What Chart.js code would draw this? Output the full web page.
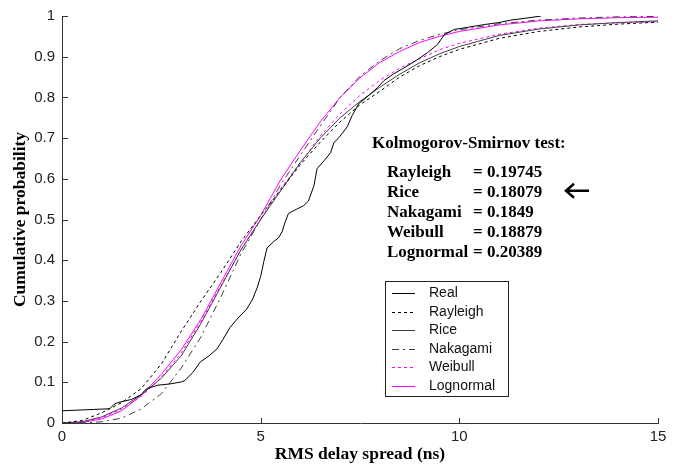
<!DOCTYPE html>
<html>
<head>
<meta charset="utf-8">
<script src="https://cdn.jsdelivr.net/npm/chart.js@4.4.0/dist/chart.umd.min.js"></script>
<style>
  html, body { margin: 0; padding: 0; background: #fff; }
  #wrap { width: 677px; height: 466px; }
</style>
</head>
<body>
<div id="wrap"><canvas id="cdf" width="677" height="466"></canvas></div>
<script>
'use strict';

// --- data ---
// x grid (ns) on which the fitted CDFs are sampled
const xGrid     = [0, 0.5, 1, 1.5, 2, 2.5, 3, 3.5, 4, 4.5, 5, 5.5, 6, 6.5, 7, 7.5, 8, 8.5, 9, 9.5, 10, 11, 12, 13, 14, 15];
const rayleigh  = [0, 0.006, 0.025, 0.05, 0.085, 0.145, 0.225, 0.3, 0.37, 0.445, 0.51, 0.572, 0.635, 0.69, 0.74, 0.782, 0.815, 0.85, 0.878, 0.9, 0.918, 0.945, 0.962, 0.973, 0.98, 0.985];
const rice      = [0, 0.003, 0.015, 0.037, 0.07, 0.11, 0.165, 0.245, 0.335, 0.425, 0.5, 0.57, 0.64, 0.7, 0.75, 0.79, 0.825, 0.857, 0.885, 0.907, 0.925, 0.952, 0.968, 0.978, 0.984, 0.988];
const nakagami  = [0, 0, 0.003, 0.012, 0.035, 0.072, 0.135, 0.212, 0.31, 0.415, 0.5, 0.585, 0.658, 0.73, 0.8, 0.852, 0.89, 0.92, 0.94, 0.955, 0.966, 0.981, 0.99, 0.995, 0.998, 0.999];
const weibull   = [0, 0.003, 0.013, 0.034, 0.066, 0.112, 0.172, 0.25, 0.338, 0.425, 0.5, 0.575, 0.64, 0.705, 0.76, 0.805, 0.842, 0.872, 0.895, 0.917, 0.933, 0.955, 0.97, 0.979, 0.983, 0.986];
const lognormal = [0, 0.001, 0.01, 0.03, 0.068, 0.12, 0.18, 0.255, 0.345, 0.435, 0.51, 0.597, 0.67, 0.74, 0.8, 0.848, 0.886, 0.913, 0.935, 0.95, 0.962, 0.978, 0.988, 0.993, 0.996, 0.997];

// empirical CDF of the measured RMS delay spread
const realX = [0, 1.2, 1.3, 1.4, 1.75, 2.0, 2.08, 2.15, 2.42, 2.72, 3.01, 3.1, 3.3, 3.48, 3.7, 3.9, 4.05, 4.23, 4.45, 4.65, 4.8, 4.91, 5.0, 5.08, 5.16, 5.33, 5.45, 5.54, 5.62, 5.7, 5.9, 6.08, 6.2, 6.34, 6.42, 6.6, 6.76, 6.84, 7.0, 7.18, 7.3, 7.47, 7.6, 7.77, 7.95, 8.1, 8.35, 8.6, 8.9, 9.2, 9.45, 9.62, 9.87, 10.2, 10.63, 11.0, 11.3, 11.7, 12.06];
const realY = [0.03, 0.035, 0.045, 0.05, 0.058, 0.07, 0.08, 0.085, 0.093, 0.096, 0.101, 0.105, 0.125, 0.15, 0.165, 0.182, 0.205, 0.235, 0.26, 0.28, 0.305, 0.332, 0.36, 0.397, 0.43, 0.446, 0.455, 0.47, 0.495, 0.515, 0.525, 0.534, 0.545, 0.583, 0.625, 0.645, 0.664, 0.688, 0.705, 0.728, 0.755, 0.785, 0.795, 0.809, 0.825, 0.841, 0.858, 0.872, 0.89, 0.91, 0.93, 0.954, 0.967, 0.972, 0.979, 0.984, 0.99, 0.995, 1.0];

// Kolmogorov-Smirnov statistics
const ksNames  = ['Rayleigh', 'Rice', 'Nakagami', 'Weibull', 'Lognormal'];
const ksValues = ['0.19745', '0.18079', '0.1849', '0.18879', '0.20389'];
const ksBest   = 'Rice';

const xTicks = [0, 5, 10, 15];
const yTicks = [0, 0.1, 0.2, 0.3, 0.4, 0.5, 0.6, 0.7, 0.8, 0.9, 1];

// --- look ---
const AXIS_COLOR = '#333';
const SANS = '"Liberation Sans", Arial, sans-serif';
const SERIF = '"Liberation Serif", "Times New Roman", serif';

const toPoints = (xs, ys) => xs.map((x, i) => ({ x, y: ys[i] }));

const series = [
    { label: 'Real',      data: toPoints(realX, realY),     color: '#000',    dash: [] },
    { label: 'Rayleigh',  data: toPoints(xGrid, rayleigh),  color: '#000',    dash: [3, 3] },
    { label: 'Rice',      data: toPoints(xGrid, rice),      color: '#404040', dash: [] },
    { label: 'Nakagami',  data: toPoints(xGrid, nakagami),  color: '#404040', dash: [7, 4, 2, 4] },
    { label: 'Weibull',   data: toPoints(xGrid, weibull),   color: '#ff00ff', dash: [3, 3] },
    { label: 'Lognormal', data: toPoints(xGrid, lognormal), color: '#ff00ff', dash: [] }
];

// MATLAB style ticks: pointing into the plot
const inwardTicks = {
    id: 'inwardTicks',
    afterDraw(chart) {
        const { ctx, chartArea: a, scales: { x, y } } = chart;
        ctx.save();
        ctx.strokeStyle = AXIS_COLOR;
        ctx.lineWidth = 1;
        ctx.beginPath();
        y.ticks.forEach(t => {
            const py = Math.round(y.getPixelForValue(t.value)) + 0.5;
            ctx.moveTo(a.left, py); ctx.lineTo(a.left + 6, py);
        });
        x.ticks.forEach(t => {
            const px = Math.round(x.getPixelForValue(t.value)) + 0.5;
            ctx.moveTo(px, a.bottom); ctx.lineTo(px, a.bottom - 5);
        });
        ctx.stroke();
        ctx.restore();
    }
};

// K-S test text block with the arrow on the best fit
const ksBlock = {
    id: 'ksBlock',
    afterDraw(chart) {
        const { ctx } = chart;
        ctx.save();
        ctx.fillStyle = '#000';
        ctx.font = `bold 17px ${SERIF}`;
        ctx.textBaseline = 'alphabetic';
        ctx.fillText('Kolmogorov-Smirnov test:', 372, 148);
        ksNames.forEach((name, i) => {
            const yb = 176.5 + i * 20.2;
            ctx.fillText(name, 387, yb);
            const eqX = Math.max(473, 387 + ctx.measureText(name + ' ').width);
            ctx.fillText('= ' + ksValues[i], eqX, yb);
            if (name === ksBest) {
                const ym = yb - 6;
                ctx.strokeStyle = '#000';
                ctx.lineWidth = 2.5;
                ctx.beginPath();
                ctx.moveTo(567, ym); ctx.lineTo(589, ym);
                ctx.moveTo(574, ym - 7); ctx.lineTo(566, ym); ctx.lineTo(574, ym + 7);
                ctx.stroke();
            }
        });
        ctx.restore();
    }
};

// boxed legend like the MATLAB one
const boxedLegend = {
    id: 'boxedLegend',
    afterDraw(chart) {
        const { ctx } = chart;
        const box = { left: 385.5, top: 281.5, width: 123, height: 115 };
        ctx.save();
        ctx.fillStyle = '#fff';
        ctx.fillRect(box.left, box.top, box.width, box.height);
        ctx.strokeStyle = '#222';
        ctx.lineWidth = 1;
        ctx.strokeRect(box.left, box.top, box.width, box.height);
        ctx.font = `14px ${SANS}`;
        ctx.textBaseline = 'middle';
        chart.data.datasets.forEach((ds, i) => {
            const ym = Math.round(293 + i * 18.5) + 0.5;
            ctx.strokeStyle = ds.borderColor;
            ctx.setLineDash(ds.borderDash || []);
            ctx.beginPath();
            ctx.moveTo(392, ym); ctx.lineTo(415, ym);
            ctx.stroke();
            ctx.setLineDash([]);
            ctx.fillStyle = '#111';
            ctx.fillText(ds.label, 429, ym);
        });
        ctx.restore();
    }
};

const chart = new Chart(document.getElementById('cdf').getContext('2d'), {
    type: 'line',
    data: {
        datasets: series.map(s => ({
            label: s.label,
            data: s.data,
            borderColor: s.color,
            borderDash: s.dash,
            borderWidth: 1,
            pointRadius: 0,
            tension: 0,
            fill: false
        }))
    },
    options: {
        responsive: false,
        animation: false,
        devicePixelRatio: 1,
        layout: { padding: { left: 0, top: 12, right: 19, bottom: 0 } },
        plugins: { legend: { display: false }, tooltip: { enabled: false } },
        scales: {
            x: {
                type: 'linear',
                min: 0, max: 15,
                afterBuildTicks: axis => { axis.ticks = xTicks.map(v => ({ value: v })); },
                ticks: { color: '#222', font: { family: SANS, size: 15 }, padding: 5, maxRotation: 0 },
                grid: { display: false, drawTicks: false },
                border: { color: AXIS_COLOR },
                title: { display: true, text: 'RMS delay spread (ns)', color: '#000',
                         font: { family: SERIF, size: 17.5, weight: 'bold' }, padding: { top: 0, bottom: 1.5 } },
                afterFit: axis => { axis.height = 43; }
            },
            y: {
                min: 0, max: 1,
                afterBuildTicks: axis => { axis.ticks = yTicks.map(v => ({ value: v })); },
                ticks: { color: '#222', font: { family: SANS, size: 15 }, padding: 7,
                         callback: v => String(+v.toFixed(1)) },
                grid: { display: false, drawTicks: false },
                border: { color: AXIS_COLOR },
                title: { display: true, text: 'Cumulative probability', color: '#000',
                         font: { family: SERIF, size: 17.5, weight: 'bold' }, padding: { top: 10, bottom: 0 } },
                afterFit: axis => { axis.width = 62; }
            }
        }
    },
    plugins: [inwardTicks, ksBlock, boxedLegend]
});
</script>
</body>
</html>
